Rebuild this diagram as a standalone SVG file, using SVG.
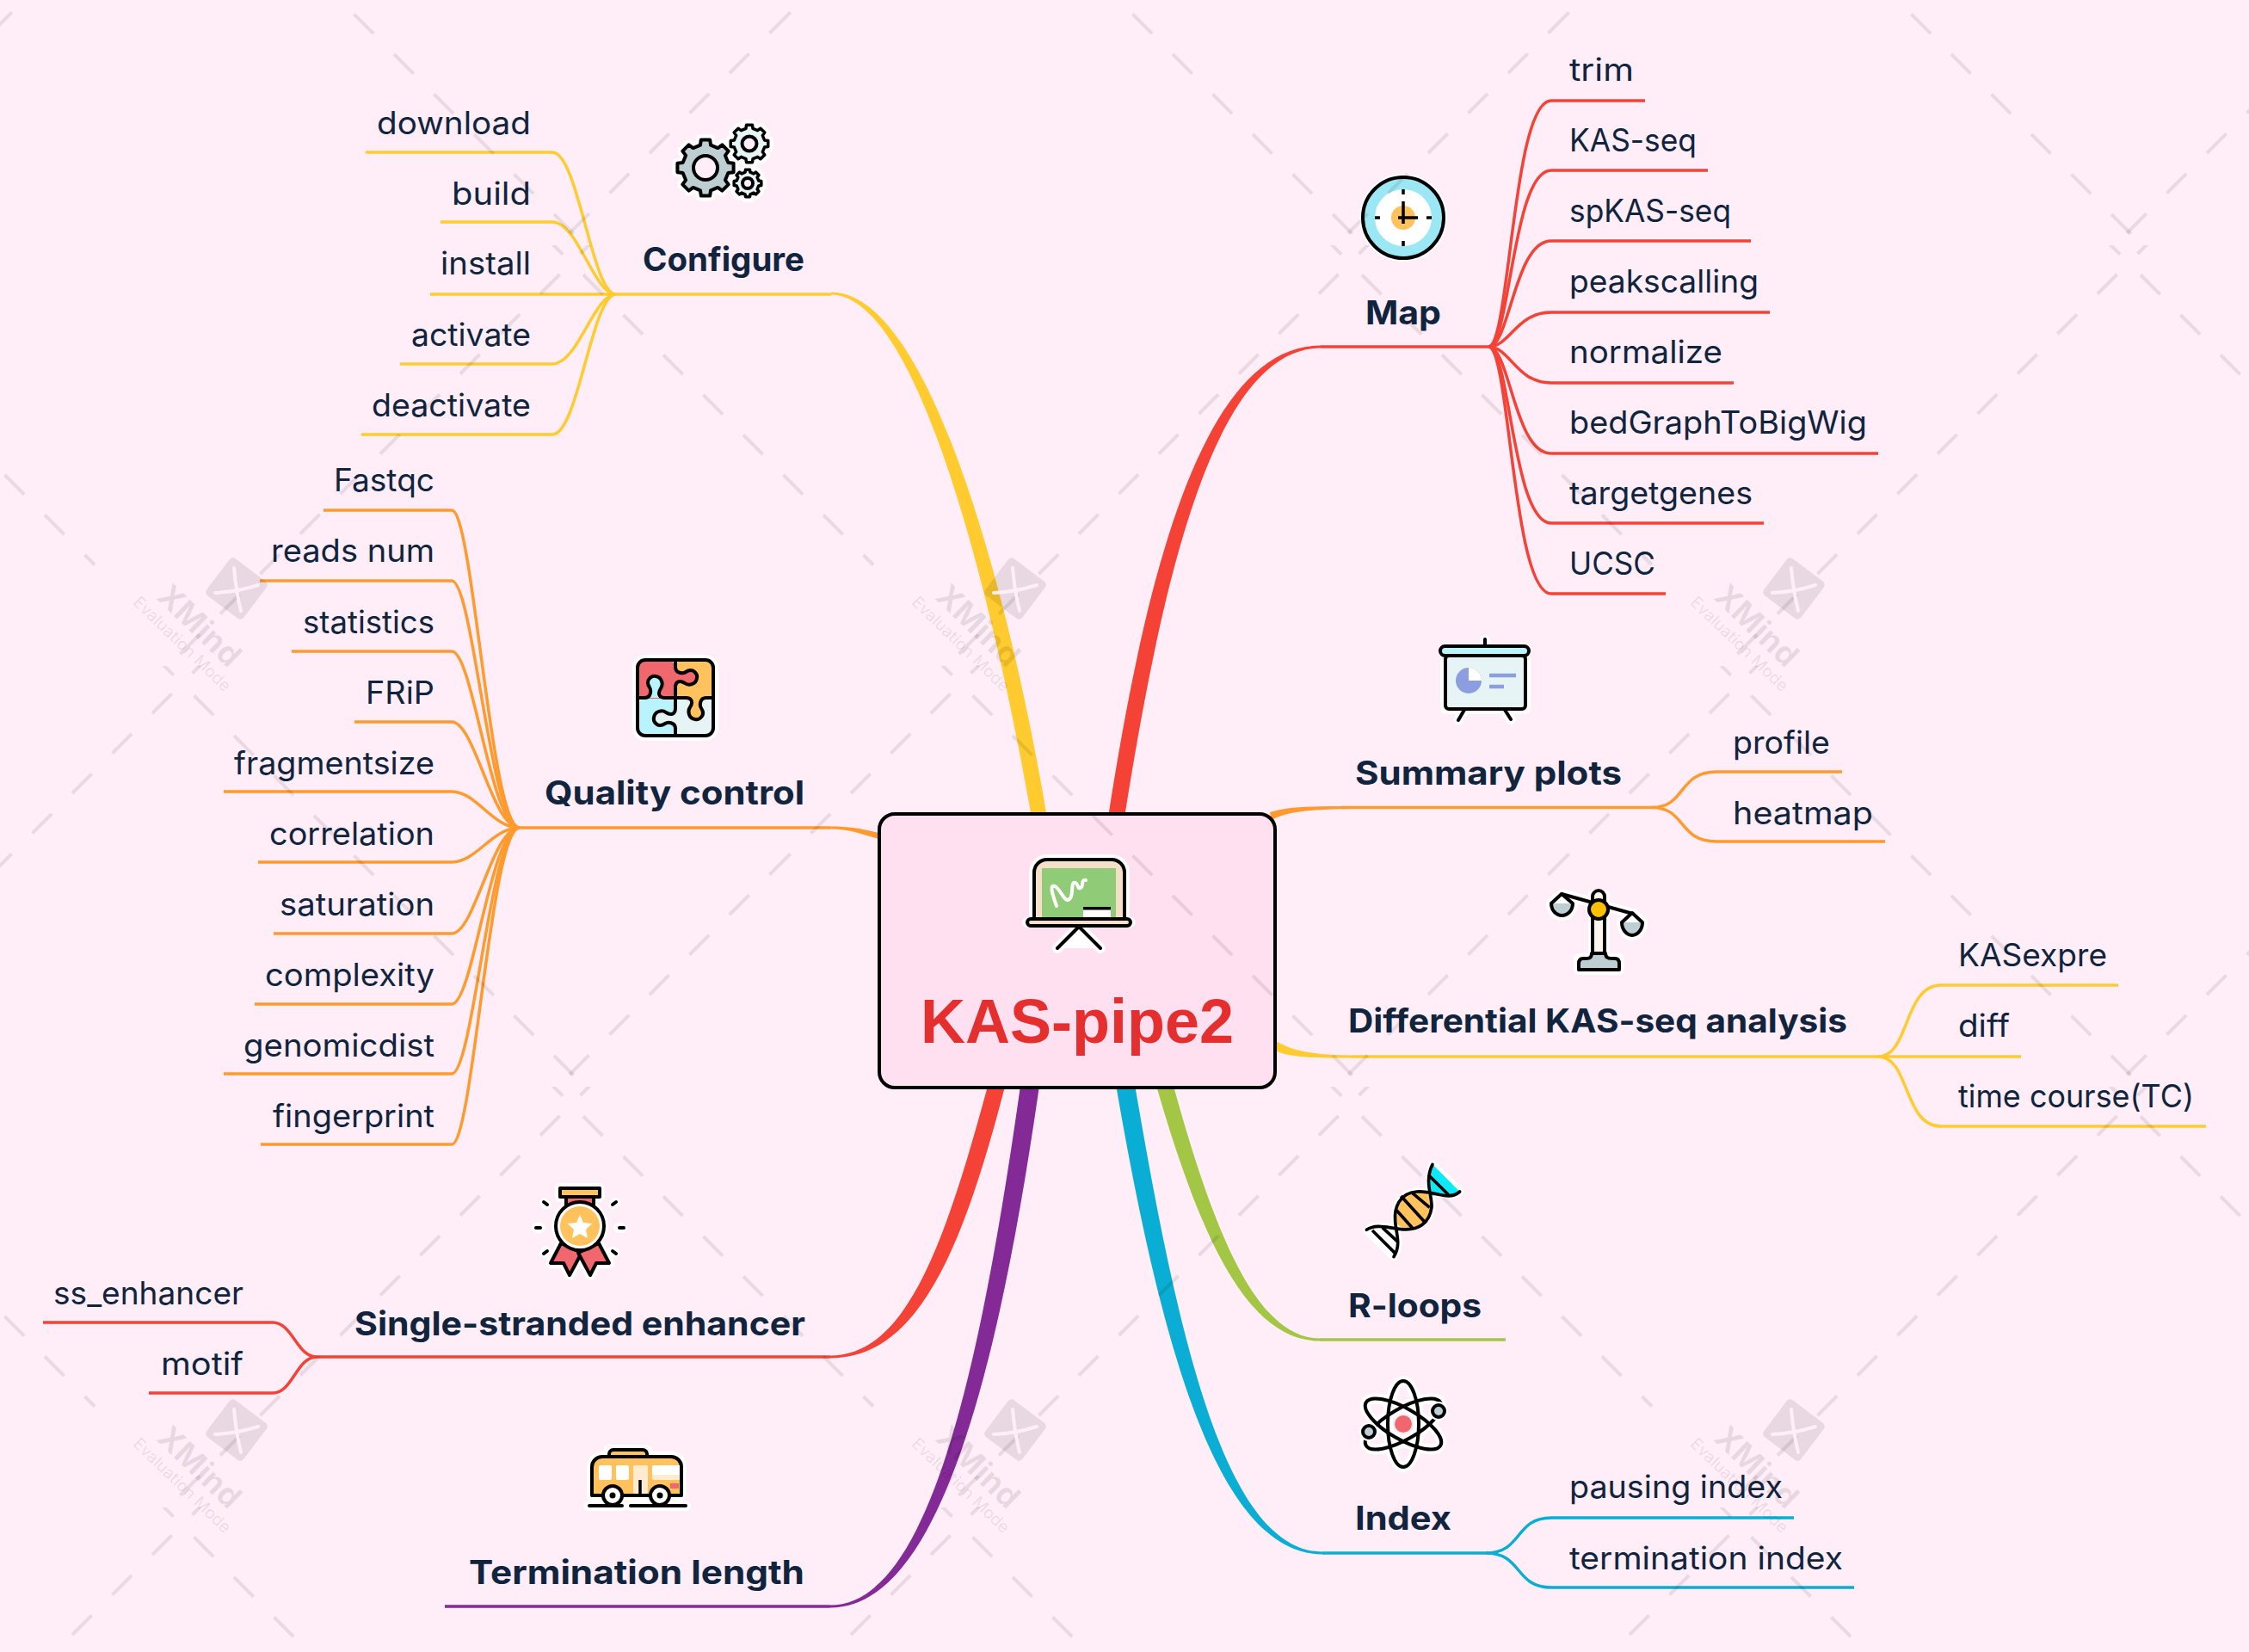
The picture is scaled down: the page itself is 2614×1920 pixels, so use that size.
<svg xmlns="http://www.w3.org/2000/svg" xmlns:xlink="http://www.w3.org/1999/xlink" width="2614" height="1920" viewBox="0 0 2614 1920">
<style>
.leaf{font-family:Inter,"Liberation Sans",sans-serif;font-size:37px;fill:#10243e;transform:translateY(1px)}
.sub{font-family:Inter,"Liberation Sans",sans-serif;font-size:38px;font-weight:700;fill:#10243e}
.c{fill:none;stroke-width:3.5}
.k{stroke:#000;stroke-width:4;stroke-linejoin:round;stroke-linecap:round}
.h{fill:#fff;stroke:#fff;stroke-width:12;stroke-linejoin:round;stroke-linecap:round}
.y{stroke:#ffcb2f}.r{stroke:#f44336}.o{stroke:#ff9a2e}.b{stroke:#0aaed4}.g{stroke:#a3c644}.p{stroke:#832a96}
</style>
<defs>
<path id="gear" vector-effect="non-scaling-stroke" d="M.799,-.184L.988,-.156L.988,.156L.799,.184L.695,.435L.809,.588L.588,.809L.435,.695L.184,.799L.156,.988L-.156,.988L-.184,.799L-.435,.695L-.588,.809L-.809,.588L-.695,.435L-.799,.184L-.988,.156L-.988,-.156L-.799,-.184L-.695,-.435L-.809,-.588L-.588,-.809L-.435,-.695L-.184,-.799L-.156,-.988L.156,-.988L.184,-.799L.435,-.695L.588,-.809L.809,-.588L.695,-.435Z"/>
<path id="arm" d="M0,-44V-36C0,-28 9,-28 12,-30C21,-36 26,-27 25,-23C24,-15 15,-14 11,-17C5,-21 0,-19 0,-12V0"/>
<clipPath id="rowA"><rect x="0" y="0" width="905" height="489"/></clipPath>
<clipPath id="rowB"><rect x="0" y="489" width="905" height="489"/></clipPath>
<pattern id="wm" patternUnits="userSpaceOnUse" width="905" height="978" patternTransform="translate(0 285)">
<g fill="none" stroke="#000" stroke-opacity=".09" stroke-width="4" stroke-dasharray="32 33.76">
<g clip-path="url(#rowA)">
<path d="M-41,220.5L110,371.5"/>
<path d="M631.5,-12L940,296.5"/>
<path d="M163,521.5L730,-45.5"/>
</g>
<g clip-path="url(#rowB)">
<path d="M179,477L680,978"/>
<path d="M-9,730L240,481"/>
<path d="M615.5,1010.5L940,686"/>
</g>
</g>
</pattern>
<g id="logo">
<rect x="-27" y="-27" width="54" height="54" rx="5" fill="#000" fill-opacity=".09" transform="translate(275 684) rotate(37)"/>
<path d="M272,660Q274,685 280,710M250,689Q275,688 300,680" stroke="#feeef8" stroke-width="4" stroke-linecap="round" fill="none"/>
<text transform="translate(232 727) rotate(44)" text-anchor="middle" dy="13" font-family="Inter,'Liberation Sans',sans-serif" font-weight="700" font-size="37" fill="#000" fill-opacity=".09">XMind</text>
<text transform="translate(212 748) rotate(44)" text-anchor="middle" dy="7" font-family="Inter,'Liberation Sans',sans-serif" font-size="19" fill="#000" fill-opacity=".09">Evaluation Mode</text>
</g>
</defs>
<rect width="2614" height="1920" fill="#ffeef8"/>
<g id="connectors">
<g fill="#ffcb2f"><path d="M966,339.5C1082,339.5 1175,700 1217,950L1199,950C1155,700 1068,342.5 966,342.5Z"/><path d="M1476,1206C1495,1217 1510,1226 1570,1226.5V1229.5C1510,1230 1490,1227 1478,1218Z"/></g>
<g fill="#f44336"><path d="M1535,401.5C1395,401.5 1330,680 1288,950L1307,950C1350,680 1410,404.5 1535,404.5Z"/><path d="M965,1575.5C1055,1575.5 1100,1440 1150,1255L1170,1255C1120,1450 1068,1578.5 965,1578.5Z"/></g>
<g fill="#ff9a2e"><path d="M1476,944C1495,938 1515,937 1570,937V940C1515,941 1495,944 1478,953Z"/><path d="M965,960.5C990,960.5 1005,964 1025,969L1025,976C1005,971 990,963.5 965,963.5Z"/></g>
<path fill="#832a96" d="M965,1865.5C1080,1865.5 1140,1590 1187,1255L1209,1255C1160,1600 1090,1868.5 965,1868.5Z"/>
<path fill="#0aaed4" d="M1537,1803.5C1420,1803.5 1365,1530 1318,1255L1296,1255C1345,1540 1410,1806.5 1537,1806.5Z"/>
<path fill="#a3c644" d="M1534,1555.5C1460,1555.5 1410,1430 1362,1255L1342,1255C1395,1440 1450,1558.5 1534,1558.5Z"/>
<g class="c y">
<path d="M966,342H716"/>
<path d="M716,342C688,342 672,177 642,177H425"/><path d="M716,342C690,342 672,258 642,258H512"/><path d="M716,342H500"/><path d="M716,342C690,342 672,423 642,423H465"/><path d="M716,342C688,342 672,505 642,505H420"/>
<path d="M1570,1228H2183"/>
<path d="M2183,1228C2220,1228 2212,1145 2256,1145H2462"/><path d="M2183,1228H2349"/><path d="M2183,1228C2220,1228 2212,1309 2256,1309H2564"/>
</g>
<g class="c r">
<path d="M1535,403H1730"/>
<path d="M1730,403C1755,403 1758,117 1803,117H1912"/><path d="M1730,403C1755,403 1758,198 1803,198H1985"/><path d="M1730,403C1755,403 1760,280 1803,280H2035"/><path d="M1730,403C1755,403 1762,363 1803,363H2057"/><path d="M1730,403C1755,403 1762,445 1803,445H2015"/><path d="M1730,403C1755,403 1760,527 1803,527H2183"/><path d="M1730,403C1755,403 1758,608 1803,608H2050"/><path d="M1730,403C1755,403 1758,690 1803,690H1936"/>
<path d="M965,1577H368"/>
<path d="M368,1577C345,1577 340,1537 317,1537H50"/><path d="M368,1577C345,1577 340,1619 317,1619H173"/>
</g>
<g class="c o">
<path d="M965,962H604"/>
<path d="M604,962C570,962 550,593 525,593H376"/><path d="M604,962C570,962 550,675 525,675H302"/><path d="M604,962C570,962 550,757 525,757H339"/><path d="M604,962C572,962 552,839 525,839H412"/><path d="M604,962C572,962 554,920 525,920H260"/><path d="M604,962C572,962 554,1002 525,1002H300"/><path d="M604,962C572,962 552,1085 525,1085H318"/><path d="M604,962C570,962 550,1167 525,1167H296"/><path d="M604,962C570,962 550,1248 525,1248H260"/><path d="M604,962C570,962 550,1330 525,1330H303"/>
<path d="M1560,938.5H1920"/>
<path d="M1920,938.5C1960,938.5 1950,897 1995,897H2141"/><path d="M1920,938.5C1960,938.5 1950,978 1995,978H2191"/>
</g>
<g class="c b">
<path d="M1537,1805H1727"/>
<path d="M1727,1805C1770,1805 1760,1764 1803,1764H2085"/><path d="M1727,1805C1770,1805 1760,1845 1803,1845H2155"/>
</g>
<path class="c g" d="M1534,1557H1750"/>
<path class="c p" d="M965,1867H517"/>
</g>

<g id="node-root">
<rect x="1022" y="946" width="460" height="318" rx="18" fill="#ffe0f0" stroke="#000" stroke-width="4"/>
<path class="h" d="M1202,1067V1014A15,15 0 0 1 1217,999H1292A15,15 0 0 1 1307,1014V1067M1194,1072H1314M1229,1102L1254,1077L1279,1102"/>
<path d="M1202,1068V1014A15,15 0 0 1 1217,999H1292A15,15 0 0 1 1307,1014V1068Z" fill="#f6dfc8" class="k"/>
<rect x="1211" y="1009" width="86" height="58" fill="#90cc78"/>
<path d="M1228,1053C1222,1036 1220,1028 1226,1030C1233,1033 1238,1052 1244,1044C1248,1038 1244,1024 1250,1026C1254,1028 1252,1034 1256,1032C1260,1030 1256,1021 1262,1023L1262,1023" fill="none" stroke="#fff" stroke-width="4" stroke-linecap="round"/>
<rect x="1259" y="1054" width="32" height="13" fill="#fff"/><rect x="1259" y="1054" width="32" height="3.5" fill="#000"/>
<rect x="1194" y="1068" width="120" height="8" rx="4" fill="#f6dfc8" class="k"/>
<path d="M1229,1102L1254,1077L1279,1102" fill="none" class="k"/>
<text x="1252" y="1212" text-anchor="middle" font-family="'Liberation Sans',Arial,sans-serif" font-weight="700" font-size="72" fill="#e52e2e">KAS-pipe2</text>
</g>

<g id="node-configure">
<use href="#gear" class="h" transform="translate(820 195) scale(33)"/><use href="#gear" class="h" transform="translate(871 167) scale(22)"/><use href="#gear" class="h" transform="translate(869 213) scale(16)"/>
<use href="#gear" class="k" fill="#becfd3" transform="translate(820 195) scale(33)"/><circle cx="820" cy="195" r="14" fill="#ffeef8" class="k"/>
<use href="#gear" class="k" fill="#e6f4f5" style="stroke-width:3.5" transform="translate(871 167) scale(22)"/><circle cx="871" cy="167" r="8.5" fill="#ffeef8" class="k"/>
<use href="#gear" class="k" fill="#e6f4f5" style="stroke-width:3.5" transform="translate(869 213) scale(16)"/><circle cx="869" cy="213" r="6" fill="#ffeef8" class="k"/>
<text class="sub" x="747" y="315" textLength="188" lengthAdjust="spacingAndGlyphs">Configure</text>
</g>
<g id="leaf-download"><text class="leaf" x="438" y="155" textLength="179" lengthAdjust="spacingAndGlyphs">download</text></g>
<g id="leaf-build"><text class="leaf" x="525" y="237" textLength="92" lengthAdjust="spacingAndGlyphs">build</text></g>
<g id="leaf-install"><text class="leaf" x="512" y="318" textLength="105" lengthAdjust="spacingAndGlyphs">install</text></g>
<g id="leaf-activate"><text class="leaf" x="478" y="401" textLength="139" lengthAdjust="spacingAndGlyphs">activate</text></g>
<g id="leaf-deactivate"><text class="leaf" x="432" y="483" textLength="185" lengthAdjust="spacingAndGlyphs">deactivate</text></g>

<g id="node-map">
<circle cx="1631" cy="253" r="51" fill="#fff"/><circle cx="1631" cy="253" r="47" fill="#9be8f4" class="k"/><circle cx="1631" cy="253" r="33" fill="#fff"/><circle cx="1631" cy="253" r="14" fill="#ffc25c"/>
<path d="M1631,220V226M1631,280V286M1598,253H1604M1658,253H1664M1631,234V260M1625,253H1648" fill="none" stroke="#000" stroke-width="3.5"/>
<text class="sub" x="1587" y="377" textLength="88" lengthAdjust="spacingAndGlyphs">Map</text>
</g>
<g id="leaf-trim"><text class="leaf" x="1824" y="93" textLength="75" lengthAdjust="spacingAndGlyphs">trim</text></g>
<g id="leaf-kasseq"><text class="leaf" x="1824" y="175" textLength="148" lengthAdjust="spacingAndGlyphs">KAS-seq</text></g>
<g id="leaf-spkasseq"><text class="leaf" x="1824" y="257" textLength="188" lengthAdjust="spacingAndGlyphs">spKAS-seq</text></g>
<g id="leaf-peakscalling"><text class="leaf" x="1824" y="339" textLength="220" lengthAdjust="spacingAndGlyphs">peakscalling</text></g>
<g id="leaf-normalize"><text class="leaf" x="1824" y="421" textLength="178" lengthAdjust="spacingAndGlyphs">normalize</text></g>
<g id="leaf-bedgraph"><text class="leaf" x="1824" y="503" textLength="346" lengthAdjust="spacingAndGlyphs">bedGraphToBigWig</text></g>
<g id="leaf-targetgenes"><text class="leaf" x="1824" y="585" textLength="213" lengthAdjust="spacingAndGlyphs">targetgenes</text></g>
<g id="leaf-ucsc"><text class="leaf" x="1824" y="667" textLength="100" lengthAdjust="spacingAndGlyphs">UCSC</text></g>

<g id="node-quality">
<rect x="741" y="767" width="88" height="88" rx="9" class="h"/>
<rect x="741" y="767" width="44" height="45" rx="9" fill="#f0686e"/><rect x="785" y="767" width="44" height="45" rx="9" fill="#ffc25c"/><rect x="741" y="812" width="44" height="43" rx="9" fill="#b9f3fb"/><rect x="785" y="812" width="44" height="43" rx="9" fill="#e6f4f5"/>
<g transform="translate(785 811)">
<use href="#arm" fill="#f0686e"/><use href="#arm" fill="#b9f3fb" transform="rotate(-90)"/><use href="#arm" fill="#e6f4f5" transform="rotate(180)"/><use href="#arm" fill="#ffc25c" transform="rotate(90)"/>
<g fill="none" class="k"><use href="#arm"/><use href="#arm" transform="rotate(-90)"/><use href="#arm" transform="rotate(180)"/><use href="#arm" transform="rotate(90)"/></g>
</g>
<rect x="741" y="767" width="88" height="88" rx="9" fill="none" class="k"/>
<text class="sub" x="633" y="935" textLength="302" lengthAdjust="spacingAndGlyphs">Quality control</text>
</g>
<g id="leaf-fastqc"><text class="leaf" x="388" y="570" textLength="117" lengthAdjust="spacingAndGlyphs">Fastqc</text></g>
<g id="leaf-readsnum"><text class="leaf" x="315" y="652" textLength="190" lengthAdjust="spacingAndGlyphs">reads num</text></g>
<g id="leaf-statistics"><text class="leaf" x="352" y="735" textLength="153" lengthAdjust="spacingAndGlyphs">statistics</text></g>
<g id="leaf-frip"><text class="leaf" x="425" y="817" textLength="80" lengthAdjust="spacingAndGlyphs">FRiP</text></g>
<g id="leaf-fragmentsize"><text class="leaf" x="272" y="899" textLength="233" lengthAdjust="spacingAndGlyphs">fragmentsize</text></g>
<g id="leaf-correlation"><text class="leaf" x="313" y="981" textLength="192" lengthAdjust="spacingAndGlyphs">correlation</text></g>
<g id="leaf-saturation"><text class="leaf" x="325" y="1063" textLength="180" lengthAdjust="spacingAndGlyphs">saturation</text></g>
<g id="leaf-complexity"><text class="leaf" x="308" y="1145" textLength="197" lengthAdjust="spacingAndGlyphs">complexity</text></g>
<g id="leaf-genomicdist"><text class="leaf" x="283" y="1227" textLength="222" lengthAdjust="spacingAndGlyphs">genomicdist</text></g>
<g id="leaf-fingerprint"><text class="leaf" x="317" y="1309" textLength="188" lengthAdjust="spacingAndGlyphs">fingerprint</text></g>

<g id="node-summary">
<path class="h" d="M1726,744V752M1680,757H1773M1680,762V824H1773V762M1702,825L1695,837M1749,825L1756,836"/>
<path d="M1726,743V751M1702,825L1695,837M1749,825L1756,836" fill="none" class="k"/>
<rect x="1680" y="762" width="93" height="62" rx="4" fill="#e6f4f5" class="k"/>
<rect x="1674" y="751" width="103" height="11" rx="5.5" fill="#b9f3fb" class="k"/>
<circle cx="1707" cy="791" r="15" fill="#8c9ee0"/><path d="M1707,776A15,15 0 0 1 1722,791H1707Z" fill="#fff"/>
<path d="M1731,785H1762M1731,798H1748" stroke="#8c9ee0" stroke-width="4.5" fill="none"/>
<text class="sub" x="1575" y="912" textLength="310" lengthAdjust="spacingAndGlyphs">Summary plots</text>
</g>
<g id="leaf-profile"><text class="leaf" x="2014" y="875" textLength="113" lengthAdjust="spacingAndGlyphs">profile</text></g>
<g id="leaf-heatmap"><text class="leaf" x="2014" y="957" textLength="163" lengthAdjust="spacingAndGlyphs">heatmap</text></g>

<g id="node-diff">
<path class="h" d="M1815,1039L1898,1062M1803,1050A12.5,14 0 0 0 1828,1050L1815,1039ZM1885,1072A12,15 0 0 0 1909,1072L1897,1061ZM1852,1040H1865V1114H1882V1127H1835V1114H1852Z"/>
<path d="M1851,1110V1042A7,7 0 0 1 1865,1042V1110Z" fill="#fdf6ec" class="k"/>
<path d="M1850,1108H1866C1866,1114 1870,1114 1877,1114C1881,1114 1882,1117 1882,1120V1127H1835V1120C1835,1117 1836,1114 1840,1114C1847,1114 1850,1114 1850,1108Z" fill="#becfd3" class="k"/>
<path d="M1815,1039L1898,1062" fill="none" class="k"/>
<path d="M1803,1050A12.5,14 0 0 0 1828,1050Z" fill="#becfd3"/><path d="M1803,1050L1815,1039L1828,1050A12.5,14 0 0 1 1803,1050Z" fill="none" class="k"/>
<path d="M1885,1072A12,15 0 0 0 1909,1072Z" fill="#becfd3"/><path d="M1885,1072L1897,1061L1909,1072A12,15 0 0 1 1885,1072Z" fill="none" class="k"/>
<circle cx="1858" cy="1057" r="11" fill="#ffc000" class="k"/>
<text class="sub" x="1567" y="1200" textLength="580" lengthAdjust="spacingAndGlyphs">Differential KAS-seq analysis</text>
</g>
<g id="leaf-kasexpre"><text class="leaf" x="2276" y="1122" textLength="173" lengthAdjust="spacingAndGlyphs">KASexpre</text></g>
<g id="leaf-diff"><text class="leaf" x="2276" y="1204" textLength="60" lengthAdjust="spacingAndGlyphs">diff</text></g>
<g id="leaf-timecourse"><text class="leaf" x="2276" y="1286" textLength="274" lengthAdjust="spacingAndGlyphs">time course(TC)</text></g>

<g id="node-rloops">
<g transform="translate(1570 1340) scale(.3333)">
<path d="M55,268C90,245 130,262 160,262C230,270 275,240 282,190C285,150 265,100 285,40L380,135C340,160 300,135 230,135C170,140 150,190 155,240C160,290 175,320 150,362Z" fill="#fff" stroke="#fff" stroke-width="28" stroke-linejoin="round"/>
<path d="M285,40C265,100 285,150 285,150C300,145 340,160 380,135Z" fill="#0ce9f8"/>
<path d="M155,240C175,270 250,290 275,220C290,170 285,135 230,135C170,140 150,190 155,240Z" fill="#ffc25c"/>
<path d="M272,78L345,150M215,140L275,190M175,150L262,245M160,200L215,262M110,260L162,308M75,270L155,350" fill="none" stroke="#000" stroke-width="11"/>
<path d="M55,268C90,245 130,262 170,265C240,275 275,240 282,190C285,150 255,100 285,40M150,362C175,320 160,290 155,240C150,190 170,140 230,135C290,130 340,170 380,135" fill="none" stroke="#000" stroke-width="11" stroke-linecap="round"/>
</g>
<text class="sub" x="1567" y="1531" textLength="155" lengthAdjust="spacingAndGlyphs">R-loops</text>
</g>

<g id="node-sse">
<path class="h" d="M651,1381H697V1391H651ZM652,1447L640,1468H655L662,1482L674,1457L686,1482L693,1468H708L696,1447ZM633,1398L635,1400M715,1398L713,1400M624,1427H628M723,1427H719M633,1456L635,1454M714,1456L712,1454"/>
<circle cx="674" cy="1425" r="33" fill="#fff"/>
<rect x="658" y="1391" width="32" height="14" fill="#f0686e" class="k"/>
<path d="M652,1445L640,1468H655L662,1482L676,1456Z" fill="#f0686e" class="k"/><path d="M696,1445L708,1468H693L686,1482L672,1456Z" fill="#f0686e" class="k"/>
<rect x="651" y="1381" width="46" height="10" fill="#ffc25c" class="k"/>
<circle cx="674" cy="1425" r="28" fill="#fff" class="k"/><circle cx="674" cy="1425" r="23" fill="#ffc25c"/>
<path d="M674,1412L678,1421L688,1422L681,1429L683,1439L674,1434L665,1439L667,1429L660,1422L670,1421Z" fill="#fff"/>
<path d="M632,1397L636,1400M716,1397L712,1400M623,1427H628M725,1427H720M632,1457L636,1454M716,1457L712,1454" fill="none" class="k"/>
<text class="sub" x="412" y="1552" textLength="524" lengthAdjust="spacingAndGlyphs">Single-stranded enhancer</text>
</g>
<g id="leaf-ssenhancer"><text class="leaf" x="62" y="1515" textLength="221" lengthAdjust="spacingAndGlyphs">ss_enhancer</text></g>
<g id="leaf-motif"><text class="leaf" x="187" y="1597" textLength="96" lengthAdjust="spacingAndGlyphs">motif</text></g>

<g id="node-index">
<g fill="none" stroke="#fff" stroke-width="12"><ellipse cx="1631" cy="1655" rx="18" ry="50"/><ellipse cx="1631" cy="1655" rx="18" ry="50" transform="rotate(60 1631 1655)"/><ellipse cx="1631" cy="1655" rx="18" ry="50" transform="rotate(-60 1631 1655)"/></g>
<circle cx="1631" cy="1655" r="10" fill="#f0686e"/>
<g fill="none" class="k"><ellipse cx="1631" cy="1655" rx="18" ry="50"/><ellipse cx="1631" cy="1655" rx="18" ry="50" transform="rotate(60 1631 1655)"/><ellipse cx="1631" cy="1655" rx="18" ry="50" transform="rotate(-60 1631 1655)"/></g>
<circle cx="1672" cy="1640" r="11" fill="#fff"/><circle cx="1591" cy="1664" r="11" fill="#fff"/>
<circle cx="1672" cy="1640" r="7" fill="#becfd3" class="k"/><circle cx="1591" cy="1664" r="7" fill="#becfd3" class="k"/>
<text class="sub" x="1575" y="1778" textLength="112" lengthAdjust="spacingAndGlyphs">Index</text>
</g>
<g id="leaf-pausing"><text class="leaf" x="1824" y="1740" textLength="248" lengthAdjust="spacingAndGlyphs">pausing index</text></g>
<g id="leaf-termindex"><text class="leaf" x="1824" y="1823" textLength="318" lengthAdjust="spacingAndGlyphs">termination index</text></g>

<g id="node-termination">
<path class="h" d="M708,1693V1685H752V1693H780A12,12 0 0 1 792,1705V1738H688V1705A12,12 0 0 1 700,1693ZM684,1750H723M733,1750H797"/>
<path d="M708,1693V1690A5,5 0 0 1 713,1685H747A5,5 0 0 1 752,1690V1693Z" fill="#ffc25c" class="k"/>
<path d="M700,1693H780A12,12 0 0 1 792,1705V1738H688V1705A12,12 0 0 1 700,1693Z" fill="#ffc25c" class="k"/>
<rect x="696" y="1703" width="15" height="17" rx="2" fill="#fff"/><rect x="716" y="1703" width="15" height="17" rx="2" fill="#fff"/>
<rect x="736" y="1703" width="17" height="33" rx="2" fill="#ffebd0"/>
<path d="M758,1705A2,2 0 0 1 760,1703H790V1720H760A2,2 0 0 1 758,1718Z" fill="#ffebd0"/><path d="M758,1705A2,2 0 0 1 760,1703H790V1714H758Z" fill="#fff"/>
<rect x="779" y="1724" width="10" height="6" fill="#f0686e"/>
<path d="M744,1720V1736" stroke="#000" stroke-width="3.5" fill="none"/>
<circle cx="712" cy="1738" r="11" fill="#fff" class="k"/><circle cx="712" cy="1738" r="3.5"/>
<circle cx="767" cy="1738" r="11" fill="#fff" class="k"/><circle cx="767" cy="1738" r="3.5"/>
<path d="M685,1750H723M733,1750H797" class="k" fill="none"/>
<text class="sub" x="545" y="1841" textLength="390" lengthAdjust="spacingAndGlyphs">Termination length</text>
</g>

<g id="watermark">
<rect width="2614" height="1920" fill="url(#wm)"/>
<use href="#logo"/><use href="#logo" x="905"/><use href="#logo" x="1810"/>
<use href="#logo" y="978"/><use href="#logo" x="905" y="978"/><use href="#logo" x="1810" y="978"/>
</g>
</svg>
